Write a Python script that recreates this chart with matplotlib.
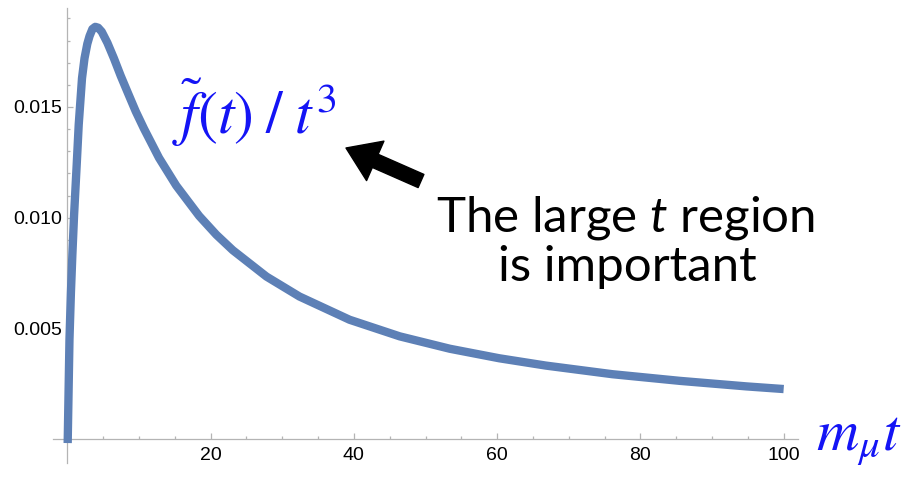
import matplotlib
matplotlib.use("Agg")
import matplotlib.pyplot as plt
from matplotlib.ticker import FixedLocator, FuncFormatter

# curve f~(t)/t^3
t_vals = [0.05, 0.3, 0.5, 0.7, 0.94, 1.31, 1.59, 2.05, 2.4, 2.79, 3.1, 3.5,
          3.9, 4.3, 4.8, 5.59, 6.5, 7.46, 8.5, 9.55, 10.7, 12.8, 15.2, 18.4,
          20.8, 23.1, 27.8, 32.4, 39.4, 46.4, 53.4, 60.3, 66.8, 76.1, 85.5,
          94.8, 100]
f_vals = [-0.00018, 0.0045, 0.0066, 0.0083, 0.0101, 0.0124, 0.0142, 0.0163,
          0.0172, 0.01785, 0.0182, 0.01852, 0.01862, 0.01858, 0.0184, 0.0179,
          0.0172, 0.0164, 0.0156, 0.0148, 0.01402, 0.0127, 0.01145, 0.01008,
          0.00923, 0.00853, 0.00734, 0.00644, 0.00539, 0.00464, 0.00408,
          0.00365, 0.00332, 0.00293, 0.00263, 0.00238, 0.00226]

x_major = [20, 40, 60, 80, 100]
x_minor = [5, 10, 15, 25, 30, 35, 45, 50, 55, 65, 70, 75, 85, 90, 95]
y_major = [0.005, 0.010, 0.015]
y_minor = [0.001, 0.002, 0.003, 0.004, 0.006, 0.007, 0.008, 0.009, 0.011,
           0.012, 0.013, 0.014, 0.016, 0.017, 0.018, 0.019]

W, H = 906, 478
plt.rcParams['font.family'] = ['Liberation Sans', 'DejaVu Sans']
plt.rcParams['mathtext.fontset'] = 'custom'
plt.rcParams['mathtext.rm'] = 'Lato'
plt.rcParams['mathtext.it'] = 'Lato:italic'

fig = plt.figure(figsize=(W / 100, H / 100), dpi=100)
ax = fig.add_axes([53 / W, 1 - 463 / H, (798 - 53) / W, (463 - 8) / H])

ax.plot(t_vals, f_vals, color='#5d80b6', lw=6, solid_capstyle='butt',
        solid_joinstyle='round', clip_on=False, zorder=3)

ax.set_xlim(-2, 102)
ax.set_ylim(-0.00108, 0.01947)

for s in ['top', 'right']:
    ax.spines[s].set_visible(False)
ax.spines['left'].set_position(('data', 0))
ax.spines['bottom'].set_position(('data', 0))
for s in ['left', 'bottom']:
    ax.spines[s].set_color('#b4b4b4')
    ax.spines[s].set_linewidth(0.9)

ax.xaxis.set_major_locator(FixedLocator(x_major))
ax.xaxis.set_minor_locator(FixedLocator(x_minor))
ax.yaxis.set_major_locator(FixedLocator(y_major))
ax.yaxis.set_minor_locator(FixedLocator(y_minor))
ax.yaxis.set_major_formatter(FuncFormatter(lambda v, p: f'{v:.3f}'))
ax.tick_params(which='both', direction='in', color='#b4b4b4', width=0.9,
               labelsize=14)
ax.tick_params(which='major', length=4)
ax.tick_params(which='minor', length=2.5)
ax.tick_params(axis='x', pad=6)
ax.tick_params(axis='y', pad=4)

# labels
blue = '#1414f5'
fig.text(172 / W, 1 - 134 / H, r'$\tilde{f}(t)\;/\;t^3$', color=blue,
         fontsize=43, math_fontfamily='stix', va='baseline', ha='left')
fig.text(816 / W, 1 - 450 / H, r'$m_\mu t$', color=blue,
         fontsize=42, math_fontfamily='stix', va='baseline', ha='left')

fig.text(626 / W, 1 - 232 / H, r'The large $t$ region', family='Lato',
         fontsize=35.5, va='baseline', ha='center', math_fontfamily='custom')
fig.text(627 / W, 1 - 281 / H, 'is important', family='Lato',
         fontsize=35.5, va='baseline', ha='center')

ax.annotate('', xy=(346 / W, 1 - 148 / H), xytext=(421 / W, 1 - 181 / H),
            xycoords='figure fraction', textcoords='figure fraction',
            arrowprops=dict(arrowstyle='simple,head_length=1.0,head_width=1.35,tail_width=0.45',
                            color='black', mutation_scale=23,
                            shrinkA=0, shrinkB=0))

fig.savefig('out.png', dpi=100)
